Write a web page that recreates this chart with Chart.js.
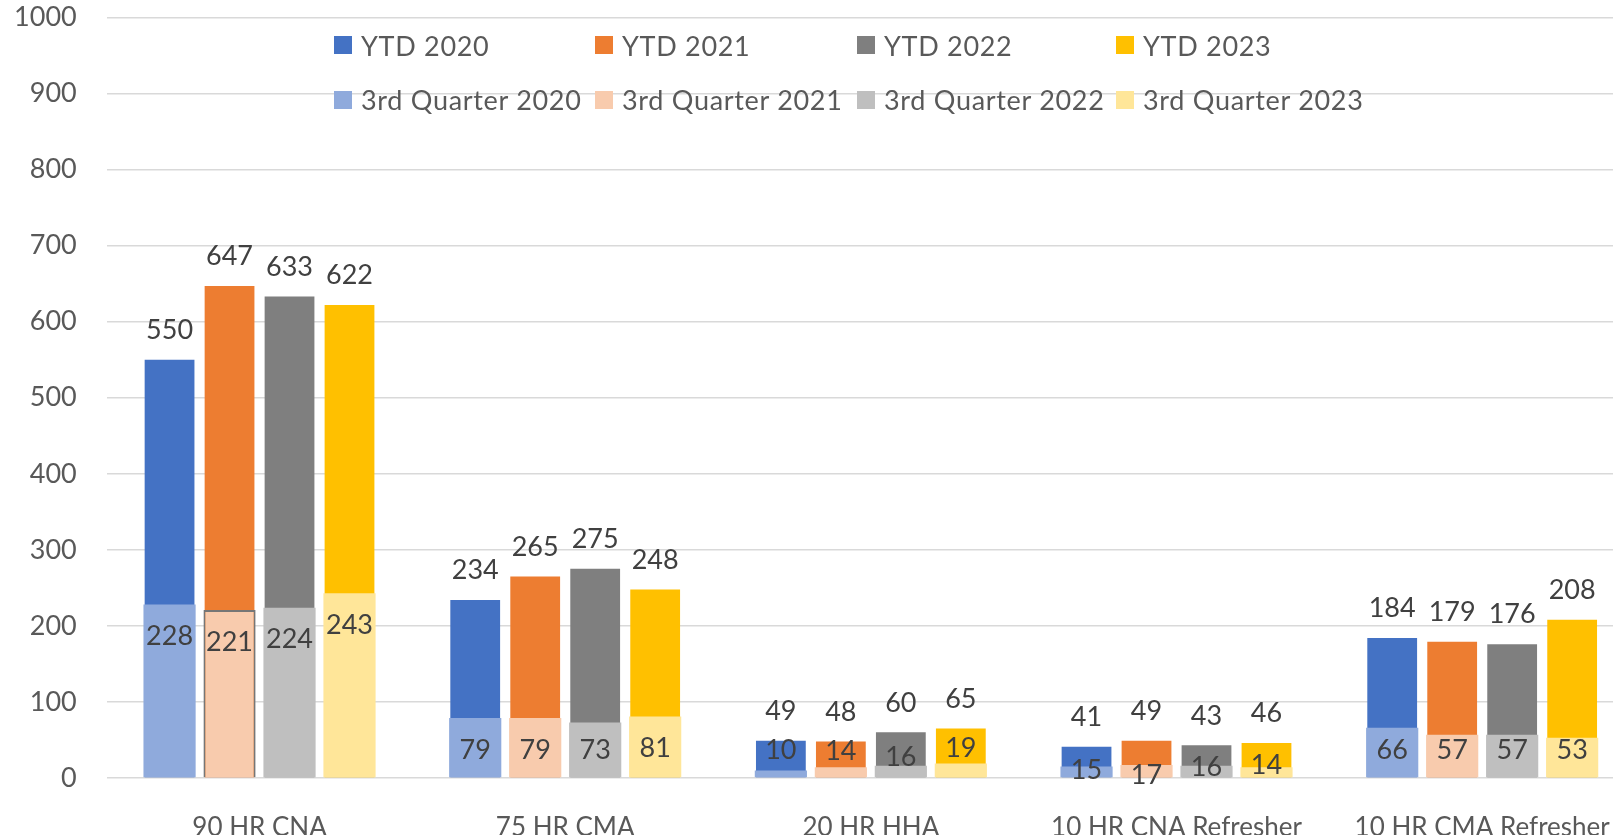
<!DOCTYPE html>
<html>
<head>
<meta charset="utf-8">
<title>YTD vs 3rd Quarter enrolments</title>
<script src="https://cdn.jsdelivr.net/npm/chart.js@4.4.0/dist/chart.umd.min.js"></script>
<style>
    html, body { margin: 0; padding: 0; background: #fff; overflow: hidden; }
    #wrap { position: relative; width: 1613px; height: 835px; overflow: hidden; }
    #chart { position: absolute; left: 0; top: 0; }
    .legend-item {
        position: absolute;
        display: flex;
        align-items: center;
        height: 30px;
        font-family: Lato, sans-serif;
        font-size: 27px;
        letter-spacing: 0.7px;
        color: #595959;
        white-space: nowrap;
    }
    .legend-item span.box { width: 18px; height: 18px; margin-right: 9px; }
</style>
</head>
<body>
<div id="wrap">
    <canvas id="chart" width="1640" height="835"></canvas>
    <div id="legend"></div>
</div>
<script>
// Categories and values
const categories = ['90 HR CNA', '75 HR CMA', '20 HR HHA', '10 HR CNA Refresher', '10 HR CMA Refresher'];
const years = ['2020', '2021', '2022', '2023'];

const ytd2020 = [550, 234, 49, 41, 184];
const ytd2021 = [647, 265, 48, 49, 179];
const ytd2022 = [633, 275, 60, 43, 176];
const ytd2023 = [622, 248, 65, 46, 208];

const q3_2020 = [228, 79, 10, 15, 66];
const q3_2021 = [221, 79, 14, 17, 57];
const q3_2022 = [224, 73, 16, 16, 57];
const q3_2023 = [243, 81, 19, 14, 53];

const yTicks = [0, 100, 200, 300, 400, 500, 600, 700, 800, 900, 1000];

const ytdSeries = [ytd2020, ytd2021, ytd2022, ytd2023];
const q3Series = [q3_2020, q3_2021, q3_2022, q3_2023];

// Office palette
const ytdColors = ['#4472C4', '#ED7D31', '#7F7F7F', '#FFC000'];
const q3Colors = ['#8FAADC', '#F8CBAD', '#BFBFBF', '#FFE699'];

const FONT = 'Lato, sans-serif';
const TEXT = '#595959';
const LABEL = '#404040';

// Where the plot area has to sit on the canvas
const AREA = { top: 17.5, bottom: 778 };

const datasets = [];
years.forEach((yr, i) => {
    datasets.push({
        label: 'YTD ' + yr,
        data: ytdSeries[i],
        backgroundColor: ytdColors[i],
        stack: yr,
        order: 2,
        kind: 'ytd',
        barPercentage: 0.83,
        categoryPercentage: 0.785
    });
});
years.forEach((yr, i) => {
    datasets.push({
        label: '3rd Quarter ' + yr,
        data: q3Series[i],
        backgroundColor: q3Colors[i],
        // the selected point in the original keeps its outline
        borderColor: '#767676',
        borderWidth: ctx => (i === 1 && ctx.dataIndex === 0) ? 2 : 0,
        stack: yr,
        order: 1,
        kind: 'q3',
        barPercentage: 0.87,
        categoryPercentage: 0.785
    });
});

// Value labels: YTD above the bar, quarter inside near the top
const valueLabels = {
    id: 'valueLabels',
    afterDatasetsDraw(chart, args, opts) {
        const ctx = chart.ctx;
        ctx.save();
        ctx.font = '27px ' + FONT;
        ctx.fillStyle = LABEL;
        ctx.textAlign = 'center';
        ctx.textBaseline = 'middle';
        chart.data.datasets.forEach((ds, di) => {
            const meta = chart.getDatasetMeta(di);
            const yearIdx = di % 4;
            meta.data.forEach((bar, idx) => {
                const v = ds.data[idx];
                let y;
                if (ds.kind === 'ytd') {
                    y = bar.y - 29.5;
                } else {
                    y = Math.min(bar.y + 32, opts.insideFloor) + opts.nudge[idx][yearIdx];
                }
                ctx.fillText(String(v), bar.x, y);
            });
        });
        ctx.restore();
    }
};

const chart = new Chart(document.getElementById('chart'), {
    type: 'bar',
    data: { labels: categories, datasets: datasets },
    options: {
        responsive: false,
        animation: false,
        layout: { padding: { top: AREA.top, right: 5, left: 0, bottom: 0 } },
        plugins: {
            legend: { display: false },
            tooltip: { enabled: false },
            valueLabels: {
                insideFloor: 750,
                nudge: [
                    [0, 0, 0, 0],
                    [0, 0, 0, 0],
                    [0, 1, 7, -2],
                    [20, 25, 17, 15],
                    [0, 0, 0, 0]
                ]
            }
        },
        scales: {
            x: {
                stacked: true,
                grid: { display: false },
                border: { display: false },
                ticks: {
                    color: TEXT,
                    font: { family: FONT, size: 26 },
                    padding: 26,
                    maxRotation: 0,
                    autoSkip: false
                },
                afterFit: scale => { scale.height = 835 - AREA.bottom; }
            },
            y: {
                stacked: false,
                min: 0,
                max: 1000,
                afterBuildTicks: scale => { scale.ticks = yTicks.map(v => ({ value: v })); },
                // gap between labels and plot comes from an invisible tick mark,
                // tick padding would also push the plot area down
                grid: { color: '#D9D9D9', lineWidth: 1.5, drawTicks: true, tickLength: 30, tickColor: 'rgba(0,0,0,0)' },
                border: { display: false },
                ticks: {
                    color: TEXT,
                    font: { family: FONT, size: 27, lineHeight: 1 },
                    padding: 0,
                    callback: v => String(v)
                },
                afterFit: scale => { scale.width = 106.7; }
            }
        }
    },
    plugins: [valueLabels]
});

// Nudge the top padding until the plot area starts where the reference does
for (let i = 0; i < 4; i++) {
    const diff = chart.chartArea.top - AREA.top;
    if (Math.abs(diff) < 0.3) break;
    chart.options.layout.padding.top -= diff;
    chart.update();
}

// Legend sits inside the plot area in two rows of four
const legendCols = [334, 595, 857, 1116];
const legendRows = [45, 99.5];
const legendEl = document.getElementById('legend');
[['YTD ', ytdColors], ['3rd Quarter ', q3Colors]].forEach(([prefix, colors], r) => {
    years.forEach((yr, c) => {
        const item = document.createElement('div');
        item.className = 'legend-item';
        item.style.left = legendCols[c] + 'px';
        item.style.top = (legendRows[r] - 15) + 'px';
        item.innerHTML = '<span class="box" style="background:' + colors[c] + '"></span>' + prefix + yr;
        legendEl.appendChild(item);
    });
});
</script>
</body>
</html>
